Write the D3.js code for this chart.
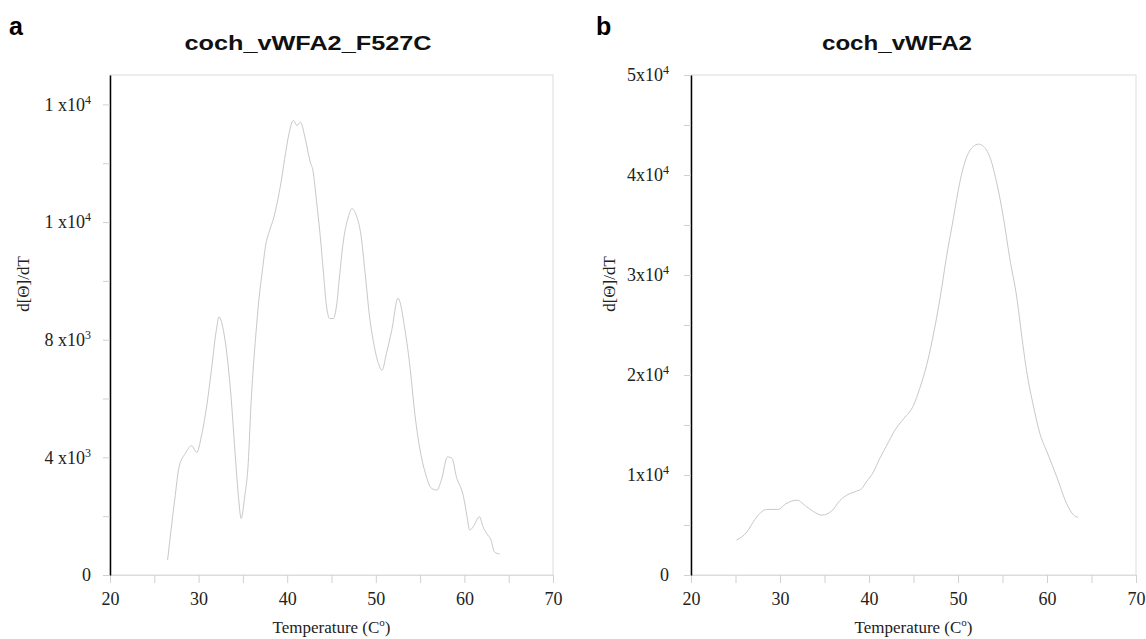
<!DOCTYPE html>
<html>
<head>
<meta charset="utf-8">
<script src="https://cdn.jsdelivr.net/npm/d3@7"></script>
<style>
  body { margin: 0; background: #fff; }
  svg { display: block; }
</style>
</head>
<body>
<script>
// data
var tempA = [26.5, 27.3, 27.8, 28.5, 29.2, 29.8, 30.3, 30.9, 31.4, 32.0, 32.3, 32.8, 33.6, 34.2, 34.5, 34.8,
  35.2, 35.6, 35.9, 36.5, 36.8, 37.2, 37.6, 37.9, 38.5, 39.0, 39.4, 39.8, 40.2, 40.7, 41.1, 41.5, 42.0,
  42.6, 42.9, 43.3, 43.7, 44.1, 44.4, 44.8, 45.2, 45.6, 45.9, 46.3, 46.9, 47.3, 47.8, 48.3, 48.8, 49.3,
  49.7, 50.3, 50.7, 51.2, 51.8, 52.5, 53.3, 53.9, 54.4, 55.0, 55.6, 56.3, 56.9, 57.4, 58.1, 58.6, 59.1,
  59.9, 60.3, 60.6, 61.0, 61.7, 62.1, 62.5, 63.0, 63.4, 64.0];
var signalA = [509, 2548, 3679, 4134, 4392, 4168, 4698, 5717, 6851, 8322, 8774, 8322, 6284, 3804, 2660, 1926,
  2660, 3794, 5717, 8322, 9341, 10360, 11267, 11607, 12170, 12850, 13529, 14324, 15003, 15455, 15285, 15397, 14888,
  14039, 13757, 12738, 11607, 10248, 9229, 8719, 8719, 9229, 10133, 11267, 12170, 12456, 12228, 11607, 10248, 8774,
  7982, 7191, 6963, 7531, 8322, 9409, 8322, 6963, 5493, 4246, 3454, 2945, 2887, 3227, 4018, 3964, 3339,
  2660, 1981, 1529, 1641, 1981, 1641, 1417, 1189, 781, 713];

var tempB = [25.1, 26.3, 27.0, 27.8, 28.5, 29.8, 30.6, 31.9, 33.0, 34.0, 34.7, 35.8, 36.7, 37.5, 38.6, 39.2,
  39.7, 40.5, 41.2, 42.0, 42.9, 43.9, 45.0, 45.7, 46.5, 47.1, 48.0, 48.7, 49.5, 50.2, 50.9, 51.7, 52.3,
  52.8, 53.6, 54.3, 55.1, 55.8, 56.6, 57.3, 57.7, 58.5, 59.2, 60.0, 61.1, 62.2, 63.0, 63.5];
var signalB = [3493, 4321, 5319, 6218, 6557, 6557, 7086, 7485, 6816, 6218, 5988, 6387, 7415, 7984, 8383, 8653,
  9311, 10309, 11647, 12974, 14471, 15639, 16966, 18663, 21059, 23454, 27776, 31768, 35760, 39252, 41617, 42845, 43084,
  42914, 41746, 39421, 35758, 31766, 27774, 22954, 20459, 16796, 14142, 12305, 9810, 7156, 5988, 5758];

var xTicks = [20, 30, 40, 50, 60, 70];
var xMinorTicks = [25, 35, 45, 55, 65];
var yTicksA = [0, 4000, 8000, 12000, 16000];
var yLabelsA = ["0", "4 x10^3", "8 x10^3", "1 x10^4", "1 x10^4"];
var yTicksB = [0, 10000, 20000, 30000, 40000, 50000];
var yLabelsB = ["0", "1x10^4", "2x10^4", "3x10^4", "4x10^4", "5x10^4"];

var svg = d3.select("body").append("svg")
    .attr("width", 1146)
    .attr("height", 639);

var serif = "'Liberation Serif', 'Times New Roman', serif";
var sans = "'Liberation Sans', Arial, sans-serif";

// writes "4 x10^3" as text with a superscript
function supText(sel, str) {
  var parts = str.split("^");
  sel.text(parts[0]);
  if (parts.length > 1) {
    sel.append("tspan").attr("dy", -7).attr("font-size", 12).text(parts[1]);
  }
}

function drawPanel(p) {
  var x = d3.scaleLinear().domain([20, 70]).range([p.left, p.right]);
  var y = d3.scaleLinear().domain([0, p.ymax]).range([p.bottom, p.top]);

  // frame
  svg.append("rect")
    .attr("x", p.left).attr("y", p.top)
    .attr("width", p.right - p.left).attr("height", p.bottom - p.top)
    .attr("fill", "none").attr("stroke", "#dcdcdc").attr("stroke-width", 1);

  // x axis
  var gx = svg.append("g")
    .attr("transform", "translate(0," + p.bottom + ")")
    .call(d3.axisBottom(x).tickValues(xTicks).tickSize(8).tickSizeOuter(0)
      .tickPadding(9).tickFormat(d3.format("d")));
  svg.append("g")
    .attr("transform", "translate(0," + p.bottom + ")")
    .call(d3.axisBottom(x).tickValues(xMinorTicks).tickSize(8).tickFormat(""))
    .select(".domain").remove();

  // y axis
  var gy = svg.append("g")
    .attr("transform", "translate(" + p.left + ",0)")
    .call(d3.axisLeft(y).tickValues(p.yTicks).tickSize(7).tickSizeOuter(0).tickPadding(p.pad));
  gy.selectAll(".tick text").each(function(d, i) {
    supText(d3.select(this), p.yLabels[i]);
  });
  var minors = d3.pairs(p.yTicks).map(function(d) { return (d[0] + d[1]) / 2; });
  svg.append("g")
    .attr("transform", "translate(" + p.left + ",0)")
    .call(d3.axisLeft(y).tickValues(minors).tickSize(7).tickFormat(""))
    .select(".domain").remove();

  svg.selectAll(".tick line").attr("stroke", "#d0d0d0");
  gx.select(".domain").attr("stroke", "#dcdcdc");
  gy.select(".domain").attr("stroke", "#000").attr("stroke-width", 1.5);
  svg.selectAll(".tick text")
    .attr("font-family", serif).attr("font-size", 18).attr("fill", "#222");

  // curve
  var pts = p.temps.map(function(t, i) { return [t, p.vals[i]]; });
  var line = d3.line()
    .x(function(d) { return x(d[0]); })
    .y(function(d) { return y(d[1]); })
    .curve(d3.curveMonotoneX);
  svg.append("path")
    .datum(pts)
    .attr("d", line)
    .attr("fill", "none")
    .attr("stroke", "#c8c8c8")
    .attr("stroke-width", 1);

  // labels
  svg.append("text")
    .attr("x", p.letterX).attr("y", 35)
    .attr("font-family", sans).attr("font-weight", "bold").attr("font-size", 25)
    .text(p.letter);
  svg.append("text")
    .attr("x", p.titleX).attr("y", 50)
    .attr("text-anchor", "middle")
    .attr("font-family", sans).attr("font-weight", "bold").attr("font-size", 20)
    .attr("textLength", p.titleW).attr("lengthAdjust", "spacingAndGlyphs")
    .attr("fill", "#111")
    .text(p.title);

  var xl = svg.append("text")
    .attr("x", (p.left + p.right) / 2).attr("y", 633)
    .attr("text-anchor", "middle")
    .attr("font-family", serif).attr("font-size", 17).attr("fill", "#222")
    .text("Temperature (C");
  xl.append("tspan").attr("dy", -7).attr("font-size", 11).text("o");
  xl.append("tspan").attr("dy", 7).text(")");

  svg.append("text")
    .attr("transform", "translate(" + p.ylabX + ",284) rotate(-90)")
    .attr("text-anchor", "middle")
    .attr("dy", "0.35em")
    .attr("font-family", serif).attr("font-size", 17).attr("fill", "#222")
    .text("d[\u0398]/dT");
}

drawPanel({
  left: 110, right: 553, top: 75, bottom: 575, ymax: 17000,
  yTicks: yTicksA, yLabels: yLabelsA, pad: 12,
  temps: tempA, vals: signalA,
  letter: "a", letterX: 9, title: "coch_vWFA2_F527C", titleX: 308, titleW: 247, ylabX: 23
});
drawPanel({
  left: 691, right: 1136, top: 75, bottom: 575, ymax: 50000,
  yTicks: yTicksB, yLabels: yLabelsB, pad: 15,
  temps: tempB, vals: signalB,
  letter: "b", letterX: 596, title: "coch_vWFA2", titleX: 897, titleW: 150, ylabX: 609
});
</script>
</body>
</html>
